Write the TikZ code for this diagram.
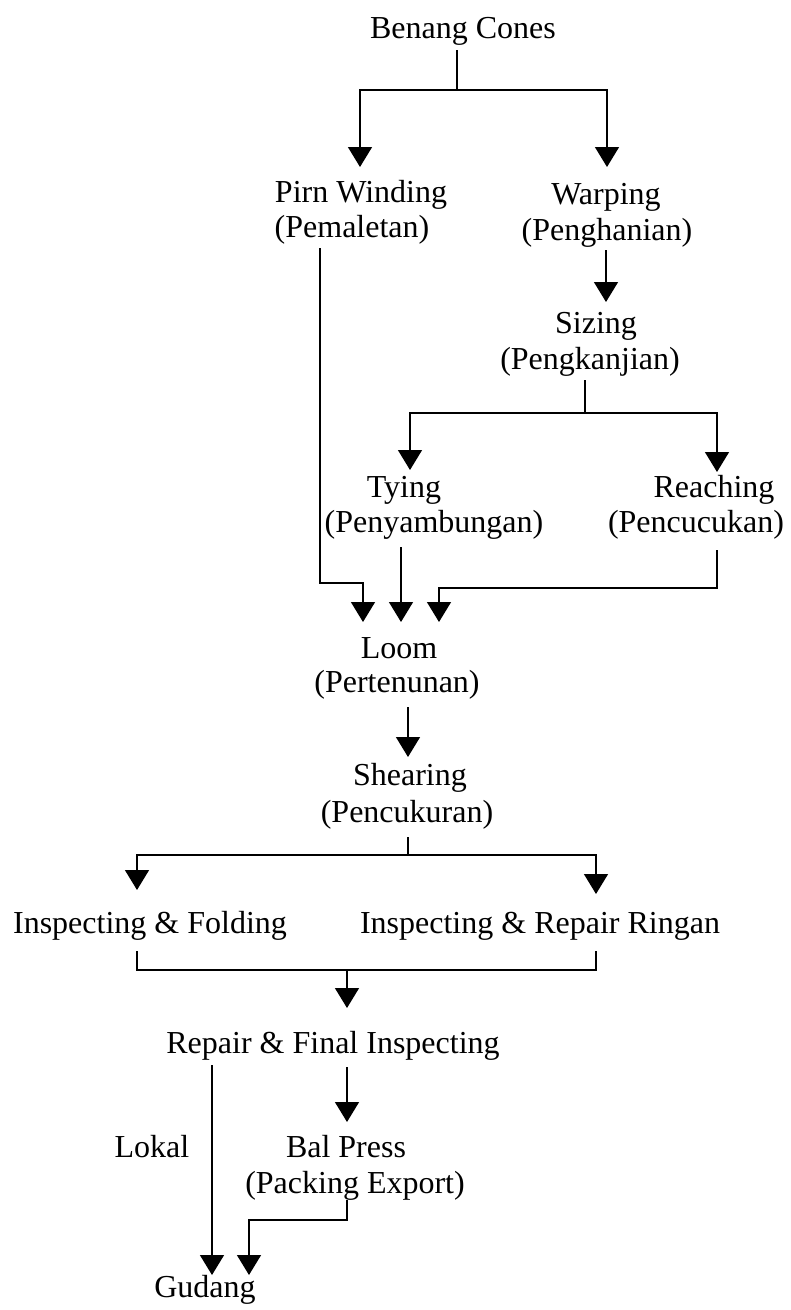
\documentclass[tikz,border=0pt]{standalone}
\usepackage{fontspec}
\setmainfont{Liberation Serif}
\usetikzlibrary{arrows.meta}
\begin{document}
\begin{tikzpicture}[x=1pt,y=-1pt,
  lbl/.style={anchor=base,inner sep=0pt,font=\fontsize{32}{36}\selectfont},
  ln/.style={line width=1.4pt},
  arr/.style={ln,-{Triangle[width=24pt,length=20pt]}}]
\useasboundingbox[fill=white] (0,0) rectangle (791,1310);
% text nodes
\node[lbl] (bc) at (463,38) {Benang Cones};
\node[lbl] (pirnA) at (361,202) {Pirn Winding};
\node[lbl] (pirnB) at (352,237) {(Pemaletan)};
\node[lbl] (warpA) at (606,204) {Warping};
\node[lbl] (warpB) at (607,240) {(Penghanian)};
\node[lbl] (sizA) at (596,333) {Sizing};
\node[lbl] (sizB) at (590,369) {(Pengkanjian)};
\node[lbl] (tyA) at (404,497) {Tying};
\node[lbl] (tyB) at (434,532) {(Penyambungan)};
\node[lbl] (reA) at (714,497) {Reaching};
\node[lbl] (reB) at (696,532) {(Pencucukan)};
\node[lbl] (loA) at (399,658) {Loom};
\node[lbl] (loB) at (397,692) {(Pertenunan)};
\node[lbl] (shA) at (410,785) {Shearing};
\node[lbl] (shB) at (407,822) {(Pencukuran)};
\node[lbl] (insF) at (150,933) {Inspecting \& Folding};
\node[lbl] (insR) at (540,933) {Inspecting \& Repair Ringan};
\node[lbl] (rep) at (333,1053) {Repair \& Final Inspecting};
\node[lbl] (lok) at (152,1157) {Lokal};
\node[lbl] (balA) at (346,1157) {Bal Press};
\node[lbl] (balB) at (355,1193) {(Packing Export)};
\node[lbl] (gud) at (205,1297) {Gudang};
% junctions and arrow ends
\coordinate (bcOut) at (457,50);
\coordinate (j1) at (457,90);
\coordinate (tPirn) at (360,167);
\coordinate (tWarp) at (607,167);
\coordinate (pirnOut) at (320,248);
\coordinate (pirnBend) at (320,583);
\coordinate (tLoom1) at (363,622);
\coordinate (warpOut) at (606,250);
\coordinate (tSiz) at (606,302);
\coordinate (sizOut) at (585,380);
\coordinate (j2) at (585,413);
\coordinate (tTy) at (410,470);
\coordinate (tRe) at (717,472);
\coordinate (tyOut) at (401,547);
\coordinate (tLoom2) at (401,622);
\coordinate (reOut) at (717,550);
\coordinate (reBend) at (717,588);
\coordinate (tLoom3) at (439,622);
\coordinate (loOut) at (408,707);
\coordinate (tSh) at (408,757);
\coordinate (shOut) at (408,837);
\coordinate (j3) at (408,855);
\coordinate (tInsF) at (137,890);
\coordinate (tInsR) at (596,894);
\coordinate (insFOut) at (137,951);
\coordinate (insROut) at (596,951);
\coordinate (j4) at (347,970);
\coordinate (tRep) at (347,1008);
\coordinate (repOut1) at (212,1065);
\coordinate (repOut2) at (347,1067);
\coordinate (tGud1) at (212,1275);
\coordinate (tBal) at (347,1122);
\coordinate (balOut) at (347,1200);
\coordinate (balBend) at (347,1220);
\coordinate (tGud2) at (249,1275);
% connectors
\draw[ln] (bcOut) -- (j1);
\draw[arr] (j1) -| (tPirn);
\draw[arr] (j1) -| (tWarp);
\draw[arr] (pirnOut) -- (pirnBend) -| (tLoom1);
\draw[arr] (warpOut) -- (tSiz);
\draw[ln] (sizOut) -- (j2);
\draw[arr] (j2) -| (tTy);
\draw[arr] (j2) -| (tRe);
\draw[arr] (tyOut) -- (tLoom2);
\draw[arr] (reOut) -- (reBend) -| (tLoom3);
\draw[arr] (loOut) -- (tSh);
\draw[ln] (shOut) -- (j3);
\draw[arr] (j3) -| (tInsF);
\draw[arr] (j3) -| (tInsR);
\draw[ln] (insFOut) |- (j4) -| (insROut);
\draw[arr] (j4) -- (tRep);
\draw[arr] (repOut1) -- (tGud1);
\draw[arr] (repOut2) -- (tBal);
\draw[arr] (balOut) -- (balBend) -| (tGud2);
\end{tikzpicture}
\end{document}
